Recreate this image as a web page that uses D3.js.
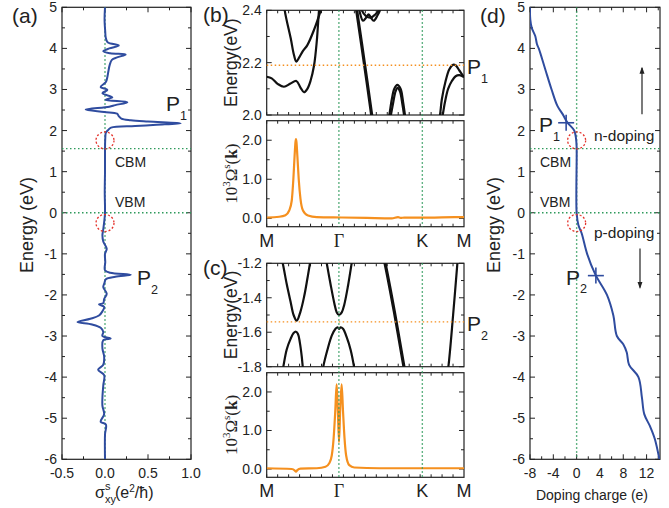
<!DOCTYPE html>
<html>
<head>
<meta charset="utf-8">
<script src="https://cdn.jsdelivr.net/npm/d3@7"></script>
<style>
  body { margin: 0; background: #fff; }
  svg { font-family: "Liberation Sans", Arial, sans-serif; }
</style>
</head>
<body>
<div id="fig"></div>
<script>
// ---- panel (a): spin Hall conductivity vs energy ----
const aEnergy = [5.0, 4.7, 4.4, 4.27, 4.15, 4.07, 4.0, 3.93, 3.88, 3.85, 3.78, 3.72, 3.6, 3.45, 3.3, 3.18,
  3.06, 2.99, 2.91, 2.81, 2.75, 2.69, 2.62, 2.58, 2.51, 2.45, 2.41, 2.35, 2.29, 2.25, 2.22, 2.18, 2.14,
  2.11, 2.07, 2.0, 1.95, 1.8, 1.5, 1.0, 0.5, 0.0, -0.2, -0.4, -0.55, -0.7, -0.88, -1.0, -1.2, -1.4,
  -1.46, -1.51, -1.56, -1.62, -1.7, -1.81, -1.97, -2.1, -2.2, -2.23, -2.29, -2.4, -2.5, -2.58, -2.66,
  -2.72, -2.8, -2.9, -3.0, -3.06, -3.1, -3.3, -3.5, -3.7, -3.82, -3.95, -4.2, -4.5, -4.7, -4.9, -5.09,
  -5.15, -5.4, -6.0];
const aSigma = [0, -0.005, 0.003, 0.008, 0.03, 0.16, 0.05, -0.02, 0.06, 0.24, 0.14, 0.08, 0.055, 0.04,
  0.027, 0.01, -0.05, 0.027, -0.03, 0.085, 0.008, 0.26, 0.12, 0.05, -0.225, -0.01, 0.14, 0.16, 0.19,
  0.3, 0.5, 0.88, 0.6, 0.35, 0.07, 0.03, 0.01, 0.003, 0, 0, -0.003, 0, -0.008, -0.02, -0.03, -0.02,
  0.02, 0, 0.003, 0, 0.06, 0.3, 0.12, 0.01, -0.005, -0.02, 0.02, -0.01, -0.02, -0.07, -0.01, -0.03,
  -0.07, -0.17, -0.32, -0.15, -0.05, -0.02, -0.03, 0.066, -0.02, -0.03, -0.01, -0.02, -0.08, -0.01,
  -0.02, -0.03, -0.03, -0.01, -0.05, 0.01, 0, 0];

// band edges and the two "suspicious" regions
const cbm = 1.56;
const vbm = 0.0;
const circleE = [1.76, -0.25];

// ---- panel (d): doping charge vs energy ----
const dEnergy = [5.0, 4.7, 4.5, 4.3, 4.1, 4.0, 3.5, 3.0, 2.6, 2.4, 2.2, 2.0, 1.8, 1.6, 0.0, -0.3, -0.5,
  -1.0, -1.5, -2.0, -2.5, -3.0, -3.2, -3.4, -3.7, -4.0, -4.5, -4.9, -5.2, -5.5, -6.0];
const dCharge = [-8.0, -7.95, -7.7, -7.1, -6.8, -6.5, -5.4, -4.3, -3.3, -2.4, -1.6, -0.4, -0.1, 0, 0,
  0.3, 0.86, 1.8, 3.2, 5.2, 6.3, 6.9, 8.0, 8.6, 9.0, 10.6, 11.2, 11.6, 12.6, 13.4, 14.2];
const pointLabels = ["P1", "P2"];
const pointCharge = [-1.8, 3.3];
const pointEnergy = [2.19, -1.53];

// ---- panels (b), (c): bands along M-Γ-K-M ----
const kNames = ["M", "Γ", "K", "M"];
const kPos = [0, 0.577, 1.244, 1.577];

const bandsB = [
  [[0, 2.146], [0.04, 2.14], [0.09, 2.118], [0.138, 2.108], [0.19, 2.12], [0.237, 2.13], [0.27, 2.105],
   [0.298, 2.087], [0.325, 2.1], [0.35, 2.13], [0.378, 2.188], [0.40, 2.28], [0.418, 2.40], [0.43, 2.46]],
  [[0.13, 2.47], [0.144, 2.40], [0.192, 2.293], [0.218, 2.229], [0.237, 2.204], [0.26, 2.22], [0.29, 2.245],
   [0.325, 2.267], [0.378, 2.325], [0.432, 2.40], [0.45, 2.43]],
  [[0.70, 2.46], [0.719, 2.40], [0.78, 2.20], [0.839, 2.0], [0.85, 1.96]],
  [[0.725, 2.43], [0.74, 2.40], [0.77, 2.36], [0.795, 2.372], [0.815, 2.385], [0.835, 2.37], [0.855, 2.36],
   [0.885, 2.38], [0.905, 2.40], [0.92, 2.43]],
  [[0.745, 2.43], [0.76, 2.40], [0.79, 2.38], [0.83, 2.372], [0.87, 2.385], [0.895, 2.40], [0.91, 2.43]],
  [[0.97, 1.98], [0.98, 2.0], [1.0, 2.06], [1.02, 2.1], [1.044, 2.115], [1.07, 2.1], [1.09, 2.05], [1.105, 2.0], [1.11, 1.98]],
  [[0.985, 1.98], [0.993, 2.0], [1.012, 2.05], [1.03, 2.09], [1.046, 2.104], [1.065, 2.09], [1.085, 2.04], [1.098, 2.0], [1.105, 1.98]],
  [[1.375, 1.98], [1.385, 2.0], [1.40, 2.06], [1.43, 2.13], [1.46, 2.175], [1.49, 2.192], [1.51, 2.19],
   [1.54, 2.17], [1.577, 2.145]],
  [[1.40, 1.98], [1.407, 2.0], [1.425, 2.05], [1.45, 2.1], [1.48, 2.13], [1.51, 2.148], [1.54, 2.152], [1.577, 2.145]],
];
const bandsC = [
  [[0.11, -1.15], [0.128, -1.2], [0.16, -1.32], [0.19, -1.42], [0.215, -1.5], [0.24, -1.533], [0.27, -1.48],
   [0.3, -1.39], [0.325, -1.29], [0.346, -1.2], [0.36, -1.14]],
  [[0.12, -1.86], [0.133, -1.8], [0.16, -1.7], [0.19, -1.64], [0.215, -1.605], [0.234, -1.597], [0.25, -1.61],
   [0.265, -1.66], [0.28, -1.74], [0.288, -1.8], [0.295, -1.85]],
  [[0.465, -1.14], [0.48, -1.2], [0.51, -1.32], [0.54, -1.43], [0.56, -1.485], [0.578, -1.50], [0.6, -1.485],
   [0.62, -1.44], [0.65, -1.33], [0.679, -1.2], [0.69, -1.15]],
  [[0.44, -1.86], [0.452, -1.8], [0.49, -1.69], [0.52, -1.62], [0.55, -1.58], [0.567, -1.571], [0.578, -1.58],
   [0.59, -1.571], [0.61, -1.58], [0.64, -1.63], [0.67, -1.7], [0.698, -1.8], [0.71, -1.86]],
  [[0.93, -1.15], [0.946, -1.2], [1.02, -1.48], [1.097, -1.8], [1.11, -1.85]],
  [[1.44, -1.85], [1.452, -1.8], [1.49, -1.5], [1.524, -1.2], [1.53, -1.15]],
];
const thickB = [2];
const thickC = [4];
const levelB = 2.19;
const levelC = -1.54;

// berry curvature along the path
const berryBk = [0, 0.1, 0.15, 0.18, 0.2, 0.213, 0.223, 0.23, 0.234, 0.238, 0.245, 0.256, 0.27, 0.29, 0.33,
  0.4, 0.6, 0.8, 1.0, 1.05, 1.07, 1.1, 1.3, 1.5, 1.577];
const berryBv = [0.02, 0.04, 0.08, 0.2, 0.45, 1.0, 1.6, 1.95, 2.03, 1.95, 1.6, 1.0, 0.5, 0.2, 0.07, 0.03,
  0.02, 0.01, 0.0, 0.03, 0.01, 0.02, 0.02, 0.03, 0.03];
const berryCk = [0, 0.2, 0.225, 0.234, 0.245, 0.27, 0.4, 0.47, 0.5, 0.52, 0.535, 0.548, 0.559, 0.568, 0.578,
  0.588, 0.599, 0.61, 0.622, 0.635, 0.66, 0.7, 0.9, 1.2, 1.5, 1.577];
const berryCv = [0.02, 0.0, -0.04, -0.07, -0.03, 0.01, 0.02, 0.06, 0.15, 0.35, 0.8, 1.5, 2.2, 1.6, 0.7, 1.6,
  2.2, 1.5, 0.8, 0.35, 0.1, 0.04, 0.02, 0.02, 0.02, 0.02];

const blue = "#2f4c9f";
const orange = "#f5901f";
const green = "#2f9a5c";
const red = "#e4322b";
const ink = "#222";

const svg = d3.select("#fig").append("svg").attr("width", 669).attr("height", 508);

// scales
const ax = d3.scaleLinear().domain([-0.5, 1]).range([62, 191]);
const ey = d3.scaleLinear().domain([-6, 5]).range([459.3, 7.3]);
const dx = d3.scaleLinear().domain([-8, 14.3]).range([530, 660]);
const kx = d3.scaleLinear().domain([0, 1.577]).range([266.7, 464]);
const bTop = d3.scaleLinear().domain([2.0, 2.4]).range([115, 10.3]);
const bBot = d3.scaleLinear().domain([-0.215, 2.5]).range([226.7, 120.7]);
const cTop = d3.scaleLinear().domain([-1.8, -1.2]).range([366.7, 263.3]);
const cBot = d3.scaleLinear().domain([-0.215, 2.5]).range([477.3, 372.7]);

let clipId = 0;
// box with inward ticks on all four sides, labels on left
const frame = (x, y, o) => {
  const g = svg.append("g");
  const [x0, x1] = x.range();
  const [y0, y1] = y.range();
  (o.yMajor || []).concat(o.yMinor || []).forEach((v, i) => {
    const len = i < (o.yMajor || []).length ? 5 : 3;
    g.append("line").attr("x1", x0).attr("x2", x0 + len).attr("y1", y(v)).attr("y2", y(v));
    g.append("line").attr("x1", x1).attr("x2", x1 - len).attr("y1", y(v)).attr("y2", y(v));
  });
  (o.xMajor || []).concat(o.xMinor || []).forEach((v, i) => {
    const len = i < (o.xMajor || []).length ? 5 : 3;
    g.append("line").attr("y1", y0).attr("y2", y0 - len).attr("x1", x(v)).attr("x2", x(v));
    g.append("line").attr("y1", y1).attr("y2", y1 + len).attr("x1", x(v)).attr("x2", x(v));
  });
  g.selectAll("line").attr("stroke", ink).attr("stroke-width", 1);
  g.append("rect")
    .attr("x", x0).attr("y", y1)
    .attr("width", x1 - x0).attr("height", y0 - y1)
    .attr("fill", "none").attr("stroke", ink).attr("stroke-width", 1.2);
  if (o.yLabels) {
    (o.yMajor || []).forEach((v) => {
      g.append("text").attr("x", x0 - 5).attr("y", y(v) + 5)
        .attr("text-anchor", "end").attr("font-size", 14).attr("fill", ink)
        .text(o.yLabels(v));
    });
  }
  if (o.xLabels) {
    (o.xMajor || []).forEach((v) => {
      g.append("text").attr("x", x(v)).attr("y", y0 + 19)
        .attr("text-anchor", "middle").attr("font-size", 14).attr("fill", ink)
        .text(o.xLabels(v));
    });
  }
  const id = "clip" + clipId++;
  svg.append("clipPath").attr("id", id).append("rect")
    .attr("x", x0).attr("y", y1).attr("width", x1 - x0).attr("height", y0 - y1);
  return svg.append("g").attr("clip-path", `url(#${id})`);
};

const dotted = (g, x1, x2, y1, y2, color) =>
  g.append("line").attr("x1", x1).attr("x2", x2).attr("y1", y1).attr("y2", y2)
    .attr("stroke", color).attr("stroke-width", 1.4).attr("stroke-dasharray", "1.5,2.5");

const sub = (x, y, main, s, size) => {
  const t = svg.append("text").attr("x", x).attr("y", y).attr("fill", ink).attr("font-size", size);
  t.append("tspan").text(main);
  t.append("tspan").attr("font-size", size * 0.6).attr("dy", size * 0.42).text(s);
};

const energyTicks = d3.range(-6, 6, 1);
const energyMinor = d3.range(-5.5, 5, 1);

// ---------- (a) ----------
const gA = frame(ax, ey, {
  yMajor: energyTicks, yMinor: energyMinor,
  xMajor: [-0.5, 0, 0.5, 1], xMinor: [-0.25, 0.25, 0.75],
  yLabels: (v) => String(v), xLabels: (v) => v.toFixed(1),
});
dotted(gA, ax(0), ax(0), ey(5), ey(-6), green);
dotted(svg, ax(-0.5), ax(1), ey(cbm), ey(cbm), green);
dotted(svg, ax(-0.5), ax(1), ey(vbm), ey(vbm), green);
gA.append("path")
  .datum(aEnergy.map((e, i) => [aSigma[i], e]))
  .attr("fill", "none").attr("stroke", blue).attr("stroke-width", 2)
  .attr("d", d3.line().x((d) => ax(d[0])).y((d) => ey(d[1])).curve(d3.curveCatmullRom.alpha(0.5)));
circleE.forEach((e) => {
  svg.append("ellipse").attr("cx", ax(0)).attr("cy", ey(e)).attr("rx", 9).attr("ry", 8.5)
    .attr("fill", "none").attr("stroke", red).attr("stroke-width", 1.3).attr("stroke-dasharray", "2,2");
});
svg.append("text").attr("x", 115).attr("y", 167).attr("font-size", 14).attr("fill", ink).text("CBM");
svg.append("text").attr("x", 115).attr("y", 207).attr("font-size", 14).attr("fill", ink).text("VBM");
sub(166, 111, "P", "1", 21);
sub(137, 285, "P", "2", 21);
svg.append("text").attr("transform", "translate(33,225) rotate(-90)")
  .attr("text-anchor", "middle").attr("font-size", 18).attr("fill", ink).text("Energy (eV)");
const sx = svg.append("text").attr("x", 95).attr("y", 498).attr("font-size", 16).attr("fill", ink);
sx.append("tspan").text("σ");
sx.append("tspan").attr("font-size", 11).attr("dy", 5).text("xy");
sx.append("tspan").attr("font-size", 11).attr("x", 105).attr("dy", -13).text("s");
sx.append("tspan").attr("x", 115).attr("dy", 8).text("(e");
sx.append("tspan").attr("font-size", 10).attr("dy", -6).text("2");
sx.append("tspan").attr("dy", 6).text("/ħ)");
svg.append("text").attr("x", 12).attr("y", 23).attr("font-size", 21).attr("fill", ink).text("(a)");

// ---------- (b), (c) ----------
const kMinor = d3.range(0, 1.577, 1.577 / 18);
const bandPanel = (topY, botY, topMajor, topMinor, topFmt, bands, thick, level, berryK, berryV, tag, py) => {
  const gT = frame(kx, topY, { yMajor: topMajor, yMinor: topMinor, xMinor: kMinor, yLabels: topFmt });
  const gB = frame(kx, botY, {
    yMajor: [0, 1, 2], yMinor: [0.5, 1.5], xMinor: kMinor, yLabels: (v) => v.toFixed(1),
  });
  [kPos[1], kPos[2]].forEach((k) => dotted(svg, kx(k), kx(k), topY.range()[1], botY.range()[0], green));
  dotted(svg, kx.range()[0], kx.range()[1], topY(level), topY(level), orange);
  const line = d3.line().x((d) => kx(d[0])).y((d) => topY(d[1])).curve(d3.curveCatmullRom.alpha(0.5));
  bands.forEach((b, i) => {
    gT.append("path").datum(b).attr("fill", "none").attr("stroke", "#111")
      .attr("stroke-width", thick.includes(i) ? 3.2 : 2.2).attr("d", line);
  });
  gB.append("path")
    .datum(berryK.map((k, i) => [k, berryV[i]]))
    .attr("fill", "none").attr("stroke", orange).attr("stroke-width", 2.2)
    .attr("d", d3.line().x((d) => kx(d[0])).y((d) => botY(d[1])).curve(d3.curveMonotoneX));
  kNames.forEach((n, i) => {
    svg.append("text").attr("x", kx(kPos[i])).attr("y", botY.range()[0] + 20)
      .attr("text-anchor", "middle").attr("font-size", 18).attr("fill", ink)
      .attr("font-family", n === "Γ" ? "Liberation Serif, serif" : null)
      .text(n);
  });
  const mid = (topY.range()[0] + topY.range()[1]) / 2;
  svg.append("text").attr("transform", `translate(237,${mid}) rotate(-90)`)
    .attr("text-anchor", "middle").attr("font-size", 17.5).attr("fill", ink).text("Energy(eV)");
  const bm = (botY.range()[0] + botY.range()[1]) / 2;
  const bl = svg.append("text").attr("transform", `translate(237,${bm}) rotate(-90)`)
    .attr("text-anchor", "middle").attr("font-size", 17).attr("fill", ink)
    .attr("font-family", "Liberation Serif, serif");
  bl.append("tspan").text("10");
  bl.append("tspan").attr("font-size", 11).attr("dy", -7).text("3");
  bl.append("tspan").attr("dy", 7).text("Ω");
  bl.append("tspan").attr("font-size", 11).attr("dy", -7).text("s");
  bl.append("tspan").attr("dy", 7).text("(");
  bl.append("tspan").attr("font-weight", "bold").text("k");
  bl.append("tspan").text(")");
  svg.append("text").attr("x", 203).attr("y", topY.range()[1] + 12).attr("font-size", 21).attr("fill", ink).text(tag);
  sub(467, topY(level) + 9, "P", py, 21);
};
bandPanel(bTop, bBot, [2.0, 2.2, 2.4], [2.1, 2.3], (v) => v.toFixed(1), bandsB, thickB, levelB,
  berryBk, berryBv, "(b)", "1");
bandPanel(cTop, cBot, [-1.8, -1.6, -1.4, -1.2], [-1.7, -1.5, -1.3], (v) => v.toFixed(1), bandsC, thickC,
  levelC, berryCk, berryCv, "(c)", "2");

// ---------- (d) ----------
const gD = frame(dx, ey, {
  yMajor: energyTicks, yMinor: energyMinor,
  xMajor: [-8, -4, 0, 4, 8, 12], xMinor: [-6, -2, 2, 6, 10, 14],
  yLabels: (v) => String(v), xLabels: (v) => String(v),
});
dotted(gD, dx(0), dx(0), ey(5), ey(-6), green);
dotted(svg, dx.range()[0], dx.range()[1], ey(cbm), ey(cbm), green);
dotted(svg, dx.range()[0], dx.range()[1], ey(vbm), ey(vbm), green);
gD.append("path")
  .datum(dEnergy.map((e, i) => [dCharge[i], e]))
  .attr("fill", "none").attr("stroke", blue).attr("stroke-width", 2)
  .attr("d", d3.line().x((d) => dx(d[0])).y((d) => ey(d[1])).curve(d3.curveCatmullRom.alpha(0.5)));
circleE.forEach((e) => {
  svg.append("ellipse").attr("cx", dx(0)).attr("cy", ey(e)).attr("rx", 9).attr("ry", 8.5)
    .attr("fill", "none").attr("stroke", red).attr("stroke-width", 1.3).attr("stroke-dasharray", "2,2");
});
pointLabels.forEach((p, i) => {
  const cx = dx(pointCharge[i]);
  const cy = ey(pointEnergy[i]);
  svg.append("line").attr("x1", cx - 8).attr("x2", cx + 8).attr("y1", cy).attr("y2", cy)
    .attr("stroke", blue).attr("stroke-width", 1.6);
  svg.append("line").attr("x1", cx).attr("x2", cx).attr("y1", cy - 8).attr("y2", cy + 8)
    .attr("stroke", blue).attr("stroke-width", 1.6);
  sub(i === 0 ? 539 : 566, cy + 9, "P", p.slice(1), 21);
});
svg.append("text").attr("x", 540).attr("y", 167).attr("font-size", 14).attr("fill", ink).text("CBM");
svg.append("text").attr("x", 540).attr("y", 207).attr("font-size", 14).attr("fill", ink).text("VBM");
svg.append("text").attr("x", 594).attr("y", 141).attr("font-size", 15.5).attr("fill", ink).text("n-doping");
svg.append("text").attr("x", 594).attr("y", 238).attr("font-size", 15.5).attr("fill", ink).text("p-doping");
svg.append("defs").append("marker").attr("id", "head").attr("viewBox", "0 0 10 10")
  .attr("refX", 8).attr("refY", 5).attr("markerWidth", 6).attr("markerHeight", 8).attr("orient", "auto")
  .append("path").attr("d", "M0,1.5 L10,5 L0,8.5 Z").attr("fill", ink);
svg.append("line").attr("x1", 642).attr("x2", 642).attr("y1", ey(2.4)).attr("y2", ey(3.52))
  .attr("stroke", ink).attr("stroke-width", 1.2).attr("marker-end", "url(#head)");
svg.append("line").attr("x1", 640).attr("x2", 640).attr("y1", ey(-0.87)).attr("y2", ey(-1.82))
  .attr("stroke", ink).attr("stroke-width", 1.2).attr("marker-end", "url(#head)");
svg.append("text").attr("transform", "translate(500,225) rotate(-90)")
  .attr("text-anchor", "middle").attr("font-size", 18).attr("fill", ink).text("Energy (eV)");
svg.append("text").attr("x", 592).attr("y", 500).attr("text-anchor", "middle")
  .attr("font-size", 14).attr("fill", ink).text("Doping charge (e)");
svg.append("text").attr("x", 480).attr("y", 23).attr("font-size", 21).attr("fill", ink).text("(d)");
</script>
</body>
</html>
